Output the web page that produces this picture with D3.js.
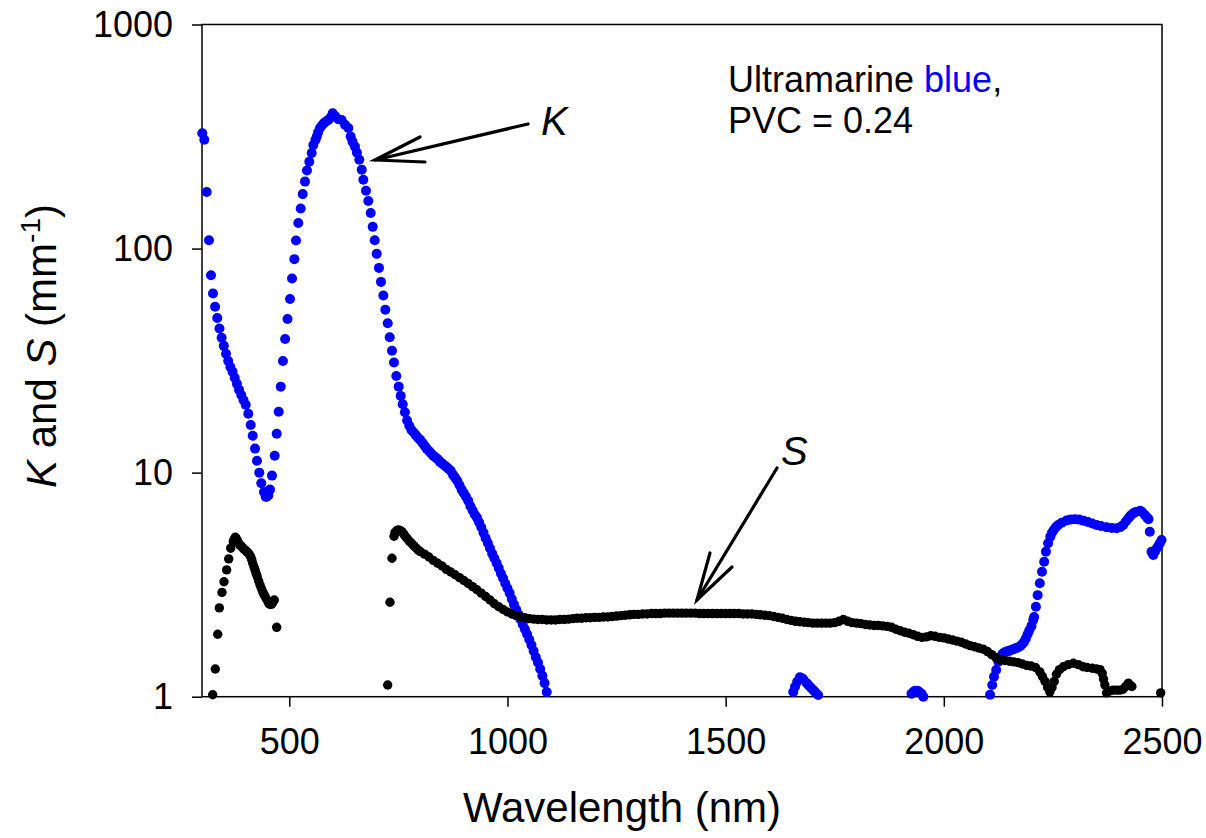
<!DOCTYPE html>
<html>
<head>
<meta charset="utf-8">
<script src="https://cdn.jsdelivr.net/npm/d3@7"></script>
<style>
body { margin: 0; background: #fff; }
text { font-family: "Liberation Sans", Arial, sans-serif; fill: #000; }
</style>
</head>
<body>
<svg id="chart" width="1206" height="838"></svg>
<script>
// K (absorption), blue points
var kWaveA = [300.7,305.3,310.8,316,320.6,325.2,330,335,340,345,350,355,360,365,370,375,380,385,390,395,
	400.1,406.1,411.6,416.2,421.5,426,431.3,435.9,442,446,448.3,452,455.8,460.4,466.6,471.2,475.8,480.5,485.5,490.5,496,
	501.7,506.3,511.6,515.4,520.7,526.2,530.8,536,540.6,545.9,551.4,555.1,560,563,566,570.4,575,579.6,585,589.5,595,599.5,
	605,612.4,620,627.7,635.3,640.7,645,650.6,655,660.5,666,669.7,675.8,681.1,686.6,691.2,695.8,700.3,705.6,710.2,
	715.6,720.1,725.6,730.2,735.4,740,745.3,750.8,755.4];
var kValA = [327,306,179,109,76,63,55,49,44,40,36.8,33.9,31.5,29.6,28.2,26.5,24.9,23.4,22.2,21.1,
	20.1,18.3,16.3,14.6,12.8,11.3,10.0,8.96,8.2,7.8,7.8,7.9,8.4,9.7,11.9,14.9,18.7,24.2,31.5,39.5,48.5,
	59.6,73.5,89.7,108.6,130,151,175,199,223,244,267,290,305,316,330,345,355,363,370,375,385,402,
	390,378,375,357,345,316,300,285,268,249,225,203,181,163,144,125,109,94.7,82,71,
	61.7,53.3,46.4,40.2,35.0,31.0,27.0,24.2,22.0];
var kWaveB = d3.range(760, 1091, 5);
var kValB = [20.2,18.6,17.1,16.2,15.5,15.1,14.7,14.3,14.0,13.6,13.2,12.8,12.5,12.2,11.9,11.7,11.5,11.2,11.0,10.8,
	10.6,10.4,10.2,9.8,9.5,9.2,8.8,8.4,8.1,7.8,7.5,7.1,6.8,6.5,6.3,6.0,5.7,5.4,5.1,4.85,
	4.6,4.35,4.15,3.95,3.75,3.55,3.38,3.2,3.05,2.9,2.73,2.58,2.45,2.33,2.21,2.1,2.0,1.9,1.8,1.7,
	1.6,1.5,1.42,1.33,1.24,1.15,1.05];
var kWaveC = [1655,1659,1664,1670,1674,1678,1686,1690,1695,1700,1705,1712,
	1926,1930,1934,1941,1945,1949,1953];
var kValC = [1.05,1.108,1.167,1.22,1.21,1.196,1.148,1.125,1.10,1.075,1.05,1.018,
	1.03,1.05,1.064,1.06,1.045,1.03,1.0];
var kWaveD = [2106,2111,2115,2120,2125,2130,2135,2140,2145,2150,2155,2160,2165,2170,2175,2180,2184,2188,2192,2196,
	2201,2205,2207,2211,2215,2220,2225,2230,2234,2239,2244,2248,2252,2257,2262,2270,2281,2290,2300,2310,
	2320,2330,2340,2350,2360,2373,2385,2396,2405,2411,2417,2423,2428,2434,2440,2450,2455,2461,2466,2469,
	2472,2476,2480,2484,2488,2492,2495,2499];
var kValD = [1.02,1.128,1.228,1.316,1.433,1.51,1.56,1.58,1.595,1.60,1.62,1.63,1.645,1.66,1.68,1.72,1.76,1.82,1.9,1.98,
	2.07,2.2,2.27,2.52,2.84,3.21,3.61,4.0,4.44,4.84,5.18,5.40,5.55,5.72,5.84,5.98,6.11,6.17,6.2,6.17,
	6.1,6.02,5.93,5.84,5.78,5.70,5.66,5.65,5.72,5.84,6.05,6.26,6.43,6.58,6.68,6.76,6.65,6.46,6.3,6.2,
	5.45,4.44,4.29,4.45,4.60,4.72,4.84,5.0];

// S (scattering), black points
var sWaveA = [324.5,330.5,336,339.7,345.8,350.4,356.5,361.2,365.8,371.8,374,376.4,378,381,384,387,390,393,396.3,400,
	403,406.1,409,411.6,414,416.2,419,421.5,424,426.7,430,433,436,439.1,442,445,449,452.9,456,459.7,462,465.7,471.1];
var sValA = [1.02,1.33,1.90,2.49,2.92,3.26,3.68,4.12,4.60,4.92,5.05,5.15,5.1,4.97,4.85,4.75,4.7,4.62,4.55,4.5,
	4.43,4.37,4.3,4.21,4.08,3.94,3.8,3.68,3.55,3.43,3.28,3.15,3.04,2.94,2.86,2.79,2.7,2.61,2.58,2.59,2.63,2.70,2.04];
var sWaveB = [725.5,730.8,735.4,740,742.3,746,750,754,758,762,766,770,775,780,785,790,795,800];
var sValB = [1.128,2.64,4.15,5.2,5.4,5.5,5.55,5.52,5.45,5.33,5.2,5.08,4.95,4.85,4.72,4.62,4.52,4.44];
var sWaveC = d3.range(810, 2221, 10);
var sValC = [4.33,4.2,4.06,3.94,3.83,3.7,3.6,3.5,3.4,3.3,
	3.2,3.1,3.0,2.9,2.8,2.7,2.6,2.52,2.45,2.39,
	2.34,2.3,2.27,2.25,2.23,2.22,2.21,2.21,2.2,2.2,
	2.2,2.21,2.21,2.22,2.23,2.24,2.24,2.25,2.25,2.26,
	2.26,2.27,2.27,2.28,2.29,2.3,2.31,2.32,2.33,2.33,
	2.34,2.34,2.35,2.35,2.35,2.36,2.36,2.36,2.36,2.36,
	2.36,2.36,2.36,2.35,2.35,2.35,2.35,2.35,2.35,2.35,2.35,2.35,2.35,
	2.34,2.34,2.34,2.33,2.32,2.31,2.3,
	2.28,2.26,2.24,2.21,2.19,2.17,2.16,2.15,2.14,2.13,
	2.13,2.13,2.13,2.13,2.14,2.17,2.21,2.17,2.14,2.13,
	2.12,2.1,2.09,2.08,2.08,2.07,2.06,2.04,2.0,1.97,
	1.94,1.92,1.89,1.86,1.84,1.85,1.87,1.86,1.84,1.83,
	1.81,1.79,1.77,1.75,1.72,1.69,1.67,1.65,1.63,1.59,
	1.54,1.49,1.46,1.45,1.44,1.43,1.42,1.40,1.38,1.37,
	1.35,1.29];
var sWaveD = [2226,2232,2238,2243,2248,2253,2258,2265,2274,2285,2297,2308,2319,2328,2340,2350,2358,2363,2366,2369,
	2373,2380,2388,2396,2404,2411,2417,2423,2428,2431,2497];
var sValD = [1.23,1.17,1.10,1.05,1.10,1.17,1.26,1.32,1.36,1.39,1.41,1.39,1.36,1.35,1.34,1.33,1.32,1.27,1.2,1.13,
	1.04,1.06,1.07,1.07,1.07,1.08,1.11,1.15,1.12,1.11,1.04];

var xTicks = [500, 1000, 1500, 2000, 2500];
var yTicks = [1, 10, 100, 1000];

function pairs(w, v) {
	return w.map(function(d, i) { return {w: d, v: v[i]}; });
}
var kData = [].concat(pairs(kWaveA, kValA), pairs(kWaveB, kValB), pairs(kWaveC, kValC), pairs(kWaveD, kValD));
var sData = [].concat(pairs(sWaveA, sValA), pairs(sWaveB, sValB), pairs(sWaveC, sValC), pairs(sWaveD, sValD));

var svg = d3.select('#chart');
var plotLeft = 202, plotRight = 1162, plotTop = 24.5, plotBottom = 696.7;

var x = d3.scaleLinear().domain([300, 2500]).range([plotLeft, plotRight]);
var y = d3.scaleLog().domain([1, 1000]).range([plotBottom, plotTop]);

// frame
svg.append('rect')
	.attr('x', plotLeft).attr('y', plotTop)
	.attr('width', plotRight - plotLeft).attr('height', plotBottom - plotTop)
	.attr('fill', 'none').attr('stroke', '#000').attr('stroke-width', 1.5);

var xAxis = svg.append('g')
	.attr('transform', 'translate(0,' + plotBottom + ')')
	.call(d3.axisBottom(x).tickValues(xTicks).tickSize(10).tickPadding(22).tickFormat(d3.format('d')));
var yAxis = svg.append('g')
	.attr('transform', 'translate(' + plotLeft + ',0)')
	.call(d3.axisLeft(y).tickValues(yTicks).tickSize(10).tickPadding(19).tickFormat(d3.format('d')));

[xAxis, yAxis].forEach(function(g) {
	g.select('.domain').remove();
	g.selectAll('line').attr('stroke', '#000').attr('stroke-width', 1.5);
	g.selectAll('text').attr('font-size', 36).attr('font-family', '"Liberation Sans", Arial, sans-serif').attr('fill', '#000');
});

// points
svg.append('g').selectAll('circle')
	.data(kData.filter(function(d) { return d.v >= 1; }))
	.join('circle')
	.attr('cx', function(d) { return x(d.w); })
	.attr('cy', function(d) { return y(d.v); })
	.attr('r', 5)
	.attr('fill', '#0000ff');

svg.append('g').selectAll('circle')
	.data(sData.filter(function(d) { return d.v >= 1; }))
	.join('circle')
	.attr('cx', function(d) { return x(d.w); })
	.attr('cy', function(d) { return y(d.v); })
	.attr('r', 4.7)
	.attr('fill', '#000');

// axis titles
svg.append('text')
	.attr('x', 622).attr('y', 822)
	.attr('text-anchor', 'middle')
	.attr('font-size', 42)
	.text('Wavelength (nm)');

var yt = svg.append('text')
	.attr('transform', 'translate(56,346) rotate(-90)')
	.attr('text-anchor', 'middle')
	.attr('font-size', 42);
yt.append('tspan').attr('font-style', 'italic').text('K');
yt.append('tspan').text(' and ');
yt.append('tspan').attr('font-style', 'italic').text('S');
yt.append('tspan').text(' (mm');
yt.append('tspan').attr('font-size', 28).attr('dy', -16).text('-1');
yt.append('tspan').attr('dy', 16).text(')');

// annotation
var note = svg.append('text').attr('x', 728).attr('y', 92).attr('font-size', 36);
note.append('tspan').text('Ultramarine ');
note.append('tspan').style('fill', '#0000ff').text('blue');
note.append('tspan').text(',');
svg.append('text').attr('x', 728).attr('y', 133).attr('font-size', 36).text('PVC = 0.24');

// arrows
function arrow(x1, y1, x2, y2, h1, h2) {
	var g = svg.append('g').attr('stroke', '#000').attr('stroke-width', 3.2).attr('fill', 'none').attr('stroke-linecap', 'round');
	g.append('line').attr('x1', x1).attr('y1', y1).attr('x2', x2).attr('y2', y2);
	g.append('polyline').attr('points', [h1, [x2, y2], h2].map(function(p) { return p.join(','); }).join(' '));
}
arrow(528, 124, 375, 160, [420, 137], [425, 162]);
arrow(777, 468, 697, 600, [710, 553], [732, 567]);

svg.append('text').attr('x', 541).attr('y', 135).attr('font-size', 40).attr('font-style', 'italic').text('K');
svg.append('text').attr('x', 781).attr('y', 465).attr('font-size', 40).attr('font-style', 'italic').text('S');
</script>
</body>
</html>
